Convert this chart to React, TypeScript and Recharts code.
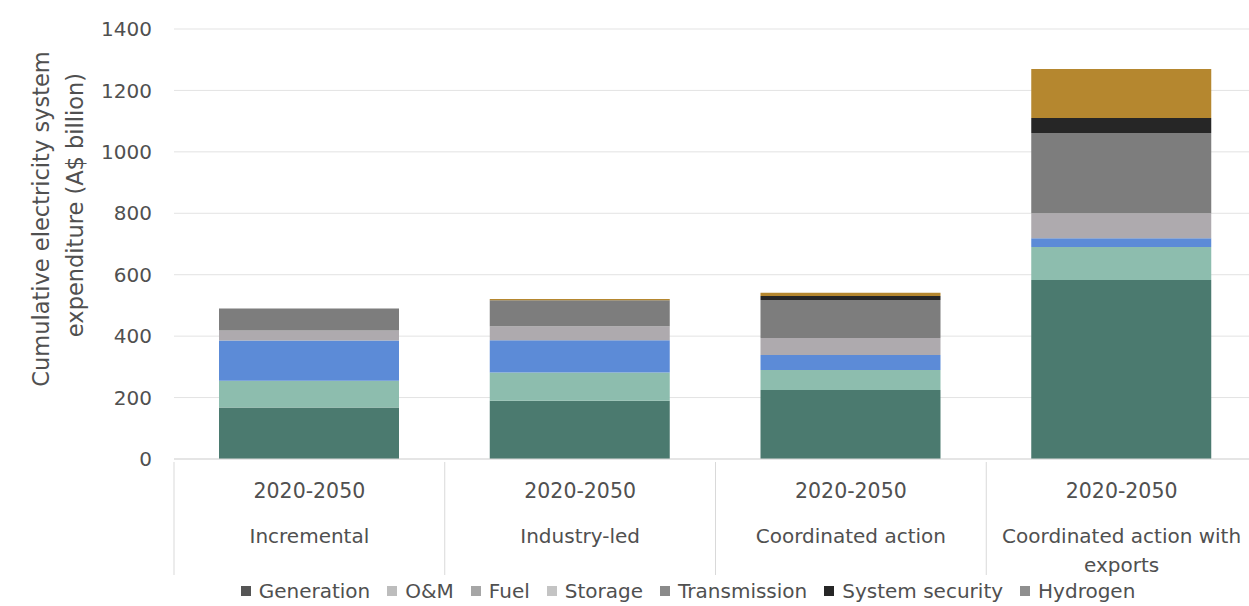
import React from "react"
import { BarChart, Bar, XAxis, YAxis, CartesianGrid, Legend } from "recharts"

// scenario categories and the period row shown above each name
const categories = ["Incremental", "Industry-led", "Coordinated action", "Coordinated action with exports"]
const period = "2020-2050"

// A$ billion, cumulative 2020-2050
const generation = [168, 190, 225, 583]
const om = [87, 92, 65, 107]
const fuel = [131, 105, 49, 29]
const storage = [32, 45, 55, 81]
const transmission = [72, 85, 124, 261]
const systemSecurity = [0, 0, 13, 49]
const hydrogen = [0, 4, 10, 160]

const yTicks = [0, 200, 400, 600, 800, 1000, 1200, 1400]

const series = [
  { key: "generation", name: "Generation", values: generation, color: "#4b7a6f", swatch: "#555555" },
  { key: "om", name: "O&M", values: om, color: "#8dbdae", swatch: "#bdbdbd" },
  { key: "fuel", name: "Fuel", values: fuel, color: "#5c8bd7", swatch: "#a6a6a6" },
  { key: "storage", name: "Storage", values: storage, color: "#aeaaae", swatch: "#c4c4c4" },
  { key: "transmission", name: "Transmission", values: transmission, color: "#7d7d7d", swatch: "#8a8a8a" },
  { key: "systemSecurity", name: "System security", values: systemSecurity, color: "#262626", swatch: "#262626" },
  { key: "hydrogen", name: "Hydrogen", values: hydrogen, color: "#b5872f", swatch: "#8f8f8f" },
]

const data = categories.map((c, i) => {
  const row: any = { category: c }
  series.forEach((s) => (row[s.key] = s.values[i]))
  return row
})

const FONT = "'DejaVu Sans', sans-serif"
const TEXT = "#505050"

// long names wrap onto a second line like the original
const wrap = (s: string) => {
  if (s.length <= 22) return [s]
  const cut = s.lastIndexOf(" ", 24)
  return [s.slice(0, cut), s.slice(cut + 1)]
}

const CategoryTick = (props: any) => {
  const { x, y, payload, index } = props
  const half = payload?.offset || 135
  const lines = wrap(payload.value)
  return (
    <g>
      <line x1={x - half} x2={x - half} y1={y - 5} y2={y + 108} stroke="#d9d9d9" />
      {index === categories.length - 1 && (
        <line x1={x + half} x2={x + half} y1={y - 5} y2={y + 108} stroke="#d9d9d9" />
      )}
      <text x={x} y={y + 31} textAnchor="middle" fill={TEXT} fontSize={20.5} fontFamily={FONT}>
        {period}
      </text>
      {lines.map((l, i) => (
        <text key={i} x={x} y={y + 76 + i * 29} textAnchor="middle" fill={TEXT} fontSize={20} fontFamily={FONT}>
          {l}
        </text>
      ))}
    </g>
  )
}

const LegendContent = () => (
  <div
    style={{
      display: "flex",
      justifyContent: "center",
      alignItems: "center",
      fontFamily: FONT,
      fontSize: 20,
      color: TEXT,
      paddingLeft: 144,
      whiteSpace: "nowrap",
    }}
  >
    {series.map((s) => (
      <span key={s.key} style={{ display: "flex", alignItems: "center", marginRight: 17 }}>
        <span style={{ width: 10, height: 10, background: s.swatch, marginRight: 8, display: "inline-block" }} />
        {s.name}
      </span>
    ))}
  </div>
)

const YLabel = () => (
  <g>
    <text
      transform="translate(41,219) rotate(-90)"
      textAnchor="middle"
      dominantBaseline="central"
      fill={TEXT}
      fontSize={22.5}
      fontFamily={FONT}
    >
      Cumulative electricity system
    </text>
    <text
      transform="translate(75,205) rotate(-90)"
      textAnchor="middle"
      dominantBaseline="central"
      fill={TEXT}
      fontSize={22.5}
      fontFamily={FONT}
    >
      expenditure (A$ billion)
    </text>
  </g>
)

export default function App() {
  return (
    <div style={{ position: "absolute", left: 0, top: 0, width: 1249, height: 606, overflow: "hidden", background: "#fff" }}>
      <BarChart width={1270} height={606} data={data} margin={{ top: 29, right: 13, bottom: 2, left: 0 }} barSize={180}>
        <CartesianGrid vertical={false} stroke="#e3e3e3" />
        <XAxis
          dataKey="category"
          tickLine={false}
          axisLine={{ stroke: "#d9d9d9" }}
          height={120}
          interval={0}
          tick={<CategoryTick />}
        />
        <YAxis
          width={174}
          domain={[0, 1400]}
          ticks={yTicks}
          tickLine={false}
          axisLine={false}
          tickMargin={16}
          tick={{ fill: TEXT, fontSize: 20, fontFamily: FONT }}
          label={{ content: () => <YLabel /> }}
        />
        <Legend verticalAlign="bottom" height={25} content={<LegendContent />} wrapperStyle={{ left: 0, width: 1249 }} />
        {series.map((s) => (
          <Bar key={s.key} dataKey={s.key} name={s.name} stackId="a" fill={s.color} isAnimationActive={false} />
        ))}
      </BarChart>
    </div>
  )
}
